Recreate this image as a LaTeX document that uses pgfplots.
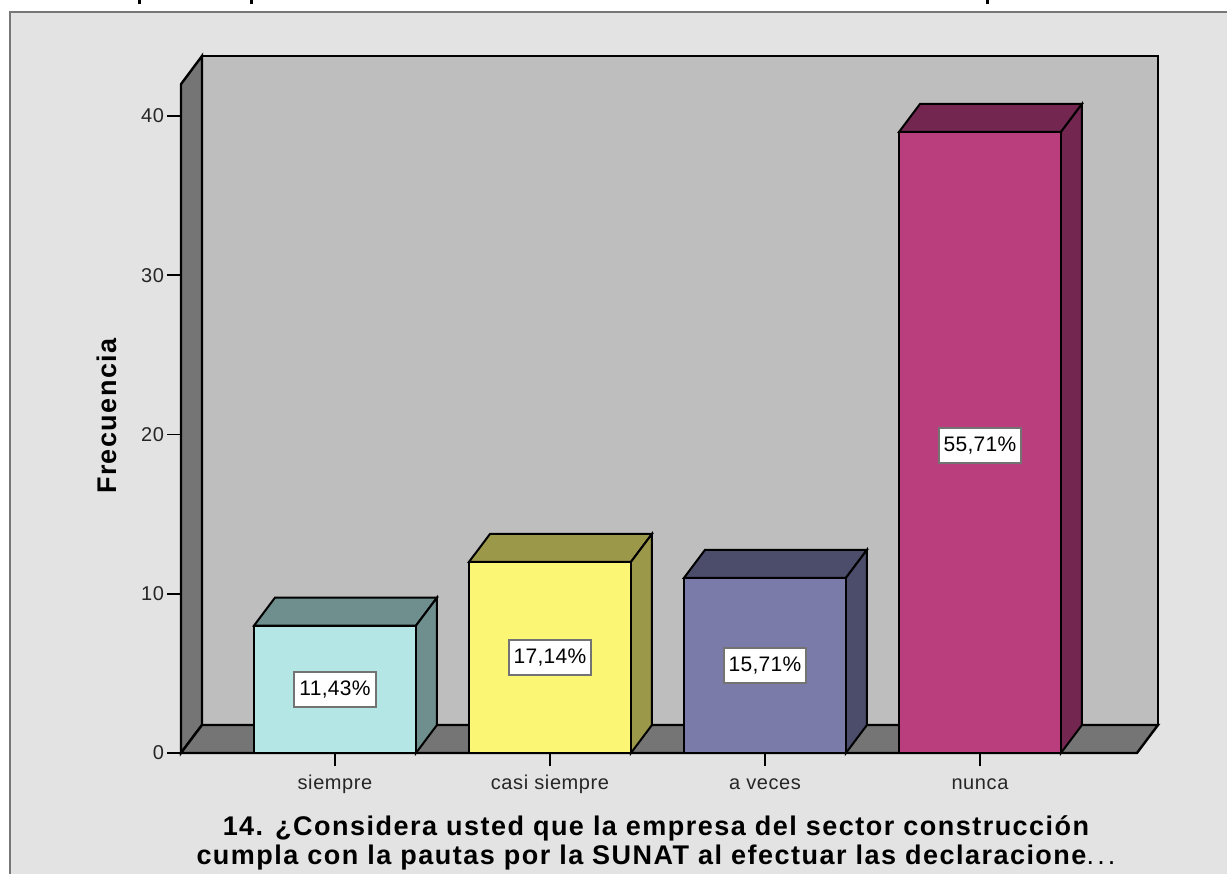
\documentclass[border=0pt]{standalone}
\usepackage{pgfplots}
\pgfplotsset{compat=1.18}
\usepackage{fontspec}
\setmainfont{Liberation Sans}
\definecolor{panel}{HTML}{E3E3E3}
\definecolor{wall}{HTML}{BEBEBE}
\definecolor{wallside}{HTML}{757575}
\definecolor{frame}{HTML}{777777}
\definecolor{cA}{HTML}{B5E6E6}\definecolor{dA}{HTML}{6F8F8F}
\definecolor{cB}{HTML}{FBF775}\definecolor{dB}{HTML}{9C984A}
\definecolor{cC}{HTML}{7B7BA9}\definecolor{dC}{HTML}{4C4C6B}
\definecolor{cD}{HTML}{BA3E7D}\definecolor{dD}{HTML}{722650}
\newcommand\ticktext{\fontsize{20}{22}\selectfont\addfontfeatures{LetterSpace=3}}
\newcommand\boldtext{\bfseries\fontsize{27}{28.5}\selectfont\addfontfeatures{LetterSpace=5.5}}
\begin{document}
\begin{tikzpicture}[x=1pt,y=1pt]
\path[use as bounding box] (-181,-121) rectangle (1046,753);
\fill[white] (-181,-121) rectangle (1046,753);
\begin{scope}
\clip (-181,-121) rectangle (1046,753);
\filldraw[fill=panel,draw=frame,line width=2.5pt] (-171,-140) rectangle (1070,741);
% feet of the cut-off title at the top edge
\fill[black] (-42.5,749) rectangle (-39.5,753);
\fill[black] (68.5,749) rectangle (71.5,753);
\fill[black] (804.5,749) rectangle (807.5,753);
\begin{axis}[
  at={(0,0)},anchor=south west,
  scale only axis,width=977pt,height=697pt,
  xmin=-0.7163,xmax=3.828,ymin=0,ymax=43.77,
  clip=false,
  axis line style={draw=none},
  xtick={0,1,2,3},
  xticklabels={siempre,casi siempre,a veces,nunca},
  ytick={0,10,20,30,40},
  xtick pos=bottom,ytick pos=left,
  tick align=outside,
  major tick length=13.5pt,
  tick style={black,line width=1.8pt},
  tick label style={font=\ticktext,text=black!85},
  /pgf/number format/assume math mode=true,
  xticklabel style={yshift=-4pt,text height=15pt,text depth=5pt},
  yticklabel style={xshift=0pt},
  ylabel={Frecuencia},
  ylabel style={font=\boldtext,at={(axis description cs:-0.0757,0.4835)},anchor=center},
]
% walls and floor
\addplot[fill=wall,draw=black,line width=2.4pt] coordinates {(-0.6186,1.758)(3.828,1.758)(3.828,43.77)(-0.6186,43.77)} --cycle;
\addplot[fill=wallside,draw=black,line width=2.4pt] coordinates {(-0.7163,0)(-0.6186,1.758)(-0.6186,43.77)(-0.7163,42)} --cycle;
\addplot[fill=wallside,draw=black,line width=2.4pt] coordinates {(-0.7163,0)(3.7302,0)(3.828,1.758)(-0.6186,1.758)} --cycle;
% siempre = 8
\addplot[fill=dA,draw=black,line width=2pt] coordinates {(-0.3767,8)(0.3767,8)(0.4744,9.758)(-0.279,9.758)} --cycle;
\addplot[fill=dA,draw=black,line width=2pt] coordinates {(0.3767,0)(0.4744,1.758)(0.4744,9.758)(0.3767,8)} --cycle;
\addplot[fill=cA,draw=black,line width=2pt] coordinates {(-0.3767,0)(0.3767,0)(0.3767,8)(-0.3767,8)} --cycle;
% casi siempre = 12
\addplot[fill=dB,draw=black,line width=2pt] coordinates {(0.6233,12)(1.3767,12)(1.4744,13.758)(0.721,13.758)} --cycle;
\addplot[fill=dB,draw=black,line width=2pt] coordinates {(1.3767,0)(1.4744,1.758)(1.4744,13.758)(1.3767,12)} --cycle;
\addplot[fill=cB,draw=black,line width=2pt] coordinates {(0.6233,0)(1.3767,0)(1.3767,12)(0.6233,12)} --cycle;
% a veces = 11
\addplot[fill=dC,draw=black,line width=2pt] coordinates {(1.6233,11)(2.3767,11)(2.4744,12.758)(1.721,12.758)} --cycle;
\addplot[fill=dC,draw=black,line width=2pt] coordinates {(2.3767,0)(2.4744,1.758)(2.4744,12.758)(2.3767,11)} --cycle;
\addplot[fill=cC,draw=black,line width=2pt] coordinates {(1.6233,0)(2.3767,0)(2.3767,11)(1.6233,11)} --cycle;
% nunca = 39
\addplot[fill=dD,draw=black,line width=2pt] coordinates {(2.6233,39)(3.3767,39)(3.4744,40.758)(2.721,40.758)} --cycle;
\addplot[fill=dD,draw=black,line width=2pt] coordinates {(3.3767,0)(3.4744,1.758)(3.4744,40.758)(3.3767,39)} --cycle;
\addplot[fill=cD,draw=black,line width=2pt] coordinates {(2.6233,0)(3.3767,0)(3.3767,39)(2.6233,39)} --cycle;
\tikzset{pct/.style={fill=white,draw=black!55,line width=2pt,font=\fontsize{21}{23}\selectfont\addfontfeatures{LetterSpace=1.5},inner sep=0pt,minimum height=35pt,minimum width=82pt,text=black}}
\node[pct] at (axis cs:0,3.96) {11,43\%};
\node[pct] at (axis cs:1,5.98) {17,14\%};
\node[pct] at (axis cs:2,5.48) {15,71\%};
\node[pct] at (axis cs:3,19.28) {55,71\%};
\end{axis}
\node[font=\boldtext,align=center,inner sep=0pt,text=black] at (475,-90)
 {14. ¿Considera usted que la empresa del sector construcción\\cumpla con la pautas por la SUNAT al efectuar las declaracione{\mdseries\addfontfeatures{LetterSpace=12}...}};
\end{scope}
\end{tikzpicture}
\end{document}
